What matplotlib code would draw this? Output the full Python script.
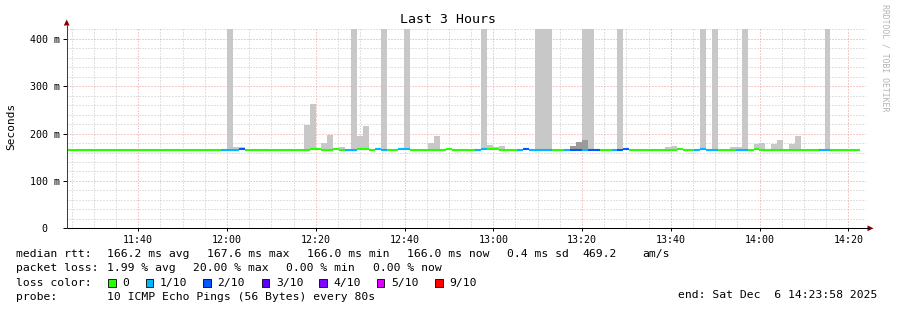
import numpy as np
import matplotlib
matplotlib.use("Agg")
import matplotlib.pyplot as plt
from matplotlib.patches import Rectangle, Polygon
from matplotlib.ticker import FixedLocator, FuncFormatter

W, H = 897, 310
MONO = "DejaVu Sans Mono"

# ---------------- data ----------------
START_MIN = 11 * 60 + 23 + 58 / 60.0      # 11:23:58
SPAN_MIN = 180.0
STEP_MIN = 80 / 60.0                      # 80 s probe step

# packet loss per step (pings lost out of 10)
loss = [0, 0, 0, 0, 0, 0, 0, 0, 0, 0,
        0, 0, 0, 0, 0, 0, 0, 0, 0, 0,
        0, 0, 0, 0, 0, 0, 1, 1, 1, 2,
        0, 0, 0, 0, 0, 0, 0, 0, 0, 0,
        0, 0, 0, 0, 0, 0, 0, 1, 1, 0,
        0, 0, 1, 1, 0, 0, 1, 1, 0, 0,
        0, 0, 0, 0, 0, 0, 0, 0, 0, 1,
        1, 0, 0, 0, 0, 0, 1, 2, 1, 1,
        1, 1, 0, 0, 1, 2, 2, 1, 2, 2,
        0, 0, 1, 2, 2, 0, 0, 0, 0, 0,
        0, 0, 0, 0, 0, 0, 1, 1, 1, 1,
        0, 0, 0, 1, 1, 0, 0, 0, 0, 0,
        0, 0, 0, 0, 0, 0, 0, 1, 1, 0,
        0, 0, 0, 0]

# median rtt per step (ms)
median_ms = [166.0, 166.0, 166.0, 166.0, 166.0, 166.0, 166.0, 166.0, 166.0, 166.0,
             166.0, 166.0, 166.0, 166.0, 166.0, 166.0, 166.0, 166.0, 166.0, 166.0,
             166.0, 166.0, 166.0, 166.0, 166.0, 166.0, 166.0, 166.0, 166.0, 166.8,
             166.0, 166.0, 166.0, 166.0, 166.0, 166.0, 166.0, 166.0, 166.0, 166.0,
             166.0, 168.5, 168.5, 166.0, 166.0, 168.5, 166.0, 166.0, 166.0, 168.5,
             168.5, 165.5, 168.0, 166.0, 166.0, 166.0, 166.5, 166.5, 166.0, 166.0,
             166.0, 166.0, 166.0, 166.0, 168.5, 166.0, 166.0, 166.0, 166.0, 166.0,
             168.5, 168.5, 168.5, 166.0, 166.0, 166.0, 166.0, 168.5, 166.0, 166.0,
             166.0, 166.0, 166.0, 166.0, 166.0, 166.0, 166.0, 166.0, 166.0, 166.0,
             166.0, 166.0, 166.0, 166.0, 168.5, 166.0, 166.0, 166.0, 166.0, 166.0,
             166.0, 166.0, 166.0, 168.5, 166.0, 166.0, 166.0, 168.5, 166.0, 166.0,
             166.0, 166.0, 166.0, 166.0, 166.0, 166.0, 168.5, 166.0, 166.0, 166.0,
             166.0, 166.0, 166.0, 166.0, 166.0, 166.0, 166.0, 166.0, 166.0, 166.0,
             166.0, 166.0, 166.0, 166.0]

nan = float("nan")
# top of the (light) smoke per step (ms); 425 = beyond the top of the chart
smoke_top_ms = [nan, nan, nan, nan, nan, nan, nan, nan, nan, nan,
                nan, nan, nan, nan, nan, nan, nan, nan, nan, nan,
                nan, nan, nan, nan, nan, nan, nan, 425, 171, 171,
                nan, nan, nan, nan, nan, nan, nan, nan, nan, nan,
                219, 262, nan, 180, 198, nan, 171, nan, 425, 196,
                217, nan, nan, 425, nan, nan, nan, 425, nan, nan,
                nan, 181, 196, nan, nan, nan, nan, nan, nan, nan,
                425, 176, 172, 174, nan, nan, nan, nan, nan, 425,
                425, 425, nan, nan, nan, nan, nan, 425, 425, nan,
                nan, nan, nan, 425, nan, nan, nan, nan, nan, nan,
                nan, 171, 173, nan, nan, nan, nan, 425, nan, 425,
                nan, nan, 171, 171, 425, nan, 177, 180, nan, 177,
                187, nan, 178, 196, nan, nan, nan, nan, 425, nan,
                nan, nan, nan, nan]

# darker (dense) smoke per step (ms)
smoke_dark_ms = {85: 174, 86: 183, 87: 187}

loss_colors = {0: "#26ff00", 1: "#00b8ff", 2: "#0059ff", 3: "#5e00ff",
               4: "#7e00ff", 5: "#dd00ff", 9: "#ff0000"}
legend_loss = ["0", "1/10", "2/10", "3/10", "4/10", "5/10", "9/10"]
legend_keys = [0, 1, 2, 3, 4, 5, 9]

x_tick_labels = ["11:40", "12:00", "12:20", "12:40", "13:00", "13:20", "13:40", "14:00", "14:20"]
y_ticks_ms = [0, 100, 200, 300, 400]

stats_rtt = ["median rtt:", "166.2 ms avg", "167.6 ms max", "166.0 ms min",
             "166.0 ms now", "0.4 ms sd", "469.2", "am/s"]
stats_loss = ["packet loss:", "1.99 % avg", "20.00 % max", "0.00 % min", "0.00 % now"]
probe_text = "10 ICMP Echo Pings (56 Bytes) every 80s"
end_text = "end: Sat Dec  6 14:23:58 2025"
title = "Last 3 Hours"

# ---------------- figure ----------------
fig = plt.figure(figsize=(W / 100, H / 100), dpi=100)
fig.patch.set_facecolor("white")

ax_l, ax_r, ax_t, ax_b = 67, 866, 28.5, 228.3
ax = fig.add_axes([ax_l / W, (H - ax_b) / H, (ax_r - ax_l) / W, (ax_b - ax_t) / H])
YTOP = 422
ax.set_xlim(START_MIN, START_MIN + SPAN_MIN)
ax.set_ylim(0, YTOP)

n = len(loss)
t0 = START_MIN + np.arange(n) * STEP_MIN
top = np.array(smoke_top_ms, dtype=float)
base = 165.0
has = ~np.isnan(top)
ax.bar(t0[has], top[has] - base, bottom=base, width=STEP_MIN, align="edge",
       color="#c8c8c8", linewidth=0, zorder=2)
dk_idx = np.array(list(smoke_dark_ms.keys()))
dk_val = np.array(list(smoke_dark_ms.values()), dtype=float)
ax.bar(t0[dk_idx], dk_val - base, bottom=base, width=STEP_MIN, align="edge",
       color="#9a9a9a", linewidth=0, zorder=3)

ax.hlines(median_ms, t0, t0 + STEP_MIN, colors=[loss_colors[l] for l in loss],
          linewidth=1.5, zorder=4, capstyle="butt")

# grid
major_x = [11 * 60 + 40 + 20 * i for i in range(len(x_tick_labels))]
minor_x = [v for v in np.arange(11 * 60 + 25, START_MIN + SPAN_MIN, 5) if v not in major_x]
ax.xaxis.set_major_locator(FixedLocator(major_x))
ax.xaxis.set_minor_locator(FixedLocator(minor_x))
ax.set_xticklabels(x_tick_labels, family=MONO, fontsize=7.2)
ax.yaxis.set_major_locator(FixedLocator(y_ticks_ms))
ax.yaxis.set_minor_locator(FixedLocator([v for v in range(20, 421, 20) if v % 100]))
ax.yaxis.set_major_formatter(FuncFormatter(lambda v, p: "0" if v == 0 else f"{int(v)} m"))
for lab in ax.get_yticklabels():
    lab.set_family(MONO)
    lab.set_fontsize(7.2)
    lab.set_horizontalalignment("center")

dot = (0, (1, 2))
ax.grid(True, which="major", color="#eb9a9a", linestyle=dot, linewidth=0.72)
ax.grid(True, which="minor", color="#c4c4c4", linestyle=dot, linewidth=0.72)
ax.set_axisbelow(True)

ax.tick_params(axis="x", which="major", length=2.5, width=0.7, color="#000000", pad=2.0)
ax.tick_params(axis="x", which="minor", length=0)
ax.tick_params(axis="y", which="major", length=3, width=0.7, color="#000000", pad=13.0)
ax.tick_params(axis="y", which="minor", length=0)
for s in ["top", "right", "left", "bottom"]:
    ax.spines[s].set_visible(False)
ax.set_facecolor("white")

# overlay in pixel coordinates
ov = fig.add_axes([0, 0, 1, 1])
ov.set_xlim(0, W)
ov.set_ylim(H, 0)
ov.axis("off")
ov.patch.set_alpha(0)

ov.plot([66.7, 66.7], [ax_b, 24.5], color="#404040", lw=0.75, solid_capstyle="butt")
ov.plot([66.7, 868.5], [ax_b, ax_b], color="#000000", lw=0.75, solid_capstyle="butt")
ov.add_patch(Polygon([[63.8, 25.5], [69.6, 25.5], [66.7, 19.5]], closed=True, color="#7f0000", lw=0))
ov.add_patch(Polygon([[867.5, 225.4], [867.5, 231.2], [873.5, 228.3]], closed=True, color="#7f0000", lw=0))

ov.text(447.5, 19.3, title, ha="center", va="center", family=MONO, fontsize=9.5, color="#000000")
ov.text(11, 126.5, "Seconds", ha="center", va="center", rotation=90, family=MONO, fontsize=8.0)
ov.text(885, 57.5, "RRDTOOL / TOBI OETIKER", ha="center", va="center", rotation=270,
        family=MONO, fontsize=5.9, color="#b4b4b4")

FS = 8.2
rtt_x = [16, 107.3, 207.3, 307.3, 406.7, 506.7, 582.7, 642.7]
for xx, s in zip(rtt_x, stats_rtt):
    ov.text(xx, 254.3, s, ha="left", va="center", family=MONO, fontsize=FS)
loss_x = [16, 107.3, 193.3, 286, 372.7]
for xx, s in zip(loss_x, stats_loss):
    ov.text(xx, 268.3, s, ha="left", va="center", family=MONO, fontsize=FS)
ov.text(16, 282.7, "loss color:", ha="left", va="center", family=MONO, fontsize=FS)
box_x = [108.3, 145.7, 203.3, 261.7, 319.3, 376.7, 435.0]
for bx, key, lab in zip(box_x, legend_keys, legend_loss):
    ov.add_patch(Rectangle((bx, 279.0), 7.5, 7.5, facecolor=loss_colors[key],
                           edgecolor="#000000", lw=0.6))
    ov.text(bx + 14.3, 282.7, lab, ha="left", va="center", family=MONO, fontsize=FS)
ov.text(16, 296.7, "probe:", ha="left", va="center", family=MONO, fontsize=FS)
ov.text(107.3, 296.7, probe_text, ha="left", va="center", family=MONO, fontsize=FS)
ov.text(677.7, 295.5, end_text, ha="left", va="center", family=MONO, fontsize=FS)

fig.savefig("out.png", dpi=100, facecolor="white")
